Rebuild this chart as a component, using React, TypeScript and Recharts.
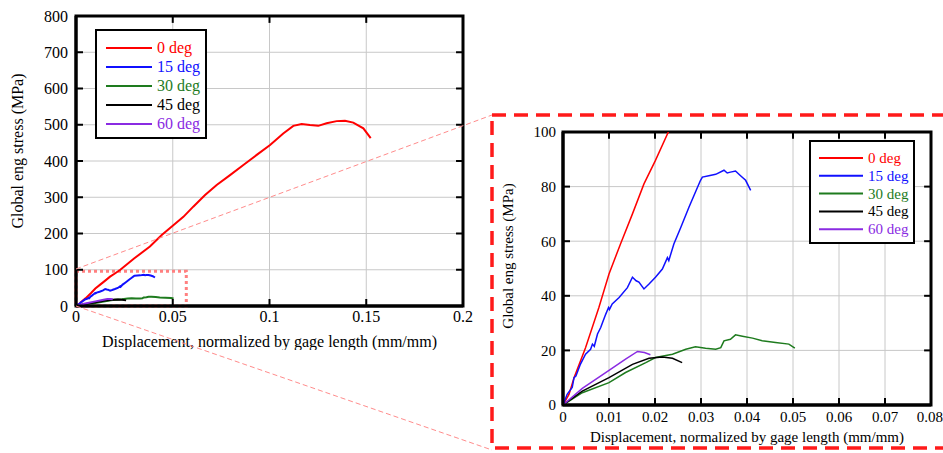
import {
  CartesianGrid,
  Legend,
  Line,
  LineChart,
  ReferenceArea,
  ReferenceLine,
  XAxis,
  YAxis,
} from "recharts";

const FONT = "'Liberation Serif', 'DejaVu Serif', serif";

const seriesNames = ["0 deg", "15 deg", "30 deg", "45 deg", "60 deg"];
const seriesColors = ["#ff0000", "#1010ff", "#1e7b1e", "#000000", "#8a2be2"];

// [displacement (mm/mm), stress (MPa)]
const deg0: [number, number][] = [
  [0, 0], [0.0013, 3.9], [0.0024, 10], [0.0049, 21], [0.0078, 35.7],
  [0.01, 48], [0.0125, 59], [0.0151, 70], [0.0176, 81], [0.0201, 89.6],
  [0.0229, 100], [0.03, 131], [0.0382, 164], [0.0443, 196], [0.0503, 223],
  [0.0555, 246], [0.0606, 274], [0.0667, 306], [0.0727, 334], [0.0796, 361],
  [0.0865, 389], [0.0934, 417], [0.1003, 444], [0.1071, 476], [0.1123, 497],
  [0.1166, 502], [0.1209, 499], [0.1252, 497], [0.1295, 504], [0.1347, 510],
  [0.139, 511], [0.1433, 506], [0.1485, 490], [0.1523, 463],
];

const deg15: [number, number][] = [
  [0, 0], [0.0009, 3.9], [0.002, 6.4], [0.0024, 10], [0.0028, 10.6],
  [0.0038, 15], [0.0049, 18.6], [0.006, 20.4], [0.0064, 22.3], [0.0068, 21.5],
  [0.0075, 26], [0.0082, 28.4], [0.0086, 30.2], [0.0093, 33.3], [0.0099, 35.7],
  [0.0101, 35], [0.0107, 37], [0.0122, 39.4], [0.014, 43], [0.0151, 46.8],
  [0.0159, 45.5], [0.0165, 45], [0.0176, 42.5], [0.0187, 44.3], [0.0201, 46.8],
  [0.0216, 49.8], [0.0227, 54], [0.023, 52.9], [0.0241, 59], [0.0256, 65],
  [0.0274, 72.5], [0.0288, 78], [0.0299, 82.3], [0.0303, 83.5], [0.0317, 84],
  [0.0332, 84.5], [0.035, 86], [0.0357, 85], [0.0364, 85.3], [0.0375, 85.7],
  [0.0386, 84], [0.0397, 82.3], [0.0408, 78.6],
];

const deg30: [number, number][] = [
  [0, 0], [0.0042, 4.5], [0.01, 8.2], [0.0136, 11.9], [0.018, 15.5],
  [0.0201, 17.4], [0.0238, 18.6], [0.0267, 20.4], [0.0288, 21.3], [0.031, 20.8],
  [0.0332, 20.4], [0.0343, 21], [0.035, 23.5], [0.0364, 24.1], [0.0375, 25.7],
  [0.039, 25.2], [0.0412, 24.5], [0.0433, 23.5], [0.0462, 22.9], [0.0491, 22.3],
  [0.0504, 20.8],
];

const deg45: [number, number][] = [
  [0, 0], [0.0042, 5.1], [0.01, 10], [0.0151, 14.9], [0.0187, 17.1],
  [0.0216, 17.6], [0.0238, 17.1], [0.0259, 15.5],
];

const deg60: [number, number][] = [
  [0, 0], [0.0042, 6.1], [0.01, 12.7], [0.0136, 16.8], [0.0162, 19.6],
  [0.0177, 19.2], [0.019, 18.4],
];

const allSeries = [deg0, deg15, deg30, deg45, deg60];

const fullXTicks = [0, 0.05, 0.1, 0.15, 0.2];
const fullYTicks = [0, 100, 200, 300, 400, 500, 600, 700, 800];
const zoomXTicks = [0, 0.01, 0.02, 0.03, 0.04, 0.05, 0.06, 0.07, 0.08];
const zoomYTicks = [0, 20, 40, 60, 80, 100];

function LegendBox({ w, h, first, gap, x1, x2, tx, fontSize }: any) {
  return (
    <div
      style={{
        width: w,
        height: h,
        border: "2px solid #000",
        background: "#fff",
        boxSizing: "border-box",
      }}
    >
      <svg width={w - 4} height={h - 4} style={{ display: "block" }}>
        {seriesNames.map((name, i) => {
          const y = first + i * gap - 2;
          return (
            <g key={name}>
              <line x1={x1 - 2} x2={x2 - 2} y1={y} y2={y} stroke={seriesColors[i]} strokeWidth={2} />
              <text
                x={tx - 2}
                y={y}
                dy="0.33em"
                fill={seriesColors[i]}
                style={{ fontSize, fontFamily: FONT }}
              >
                {name}
              </text>
            </g>
          );
        })}
      </svg>
    </div>
  );
}

function StressChart({ c }: any) {
  const tickStyle = { fill: "#000", fontSize: c.fontSize, style: { fontFamily: FONT } };
  const axisLine = { stroke: "#000", strokeWidth: 3 };
  const tickLine = { stroke: "#000", strokeWidth: 2 };
  const x0 = c.xTicks[0];
  const x1 = c.xTicks[c.xTicks.length - 1];
  const y0 = c.yTicks[0];
  const y1 = c.yTicks[c.yTicks.length - 1];
  return (
    <LineChart
      width={c.width}
      height={c.height}
      margin={c.margin}
      style={{ fontFamily: FONT }}
    >
      <CartesianGrid stroke="#c8c8c8" strokeWidth={1} />

      <XAxis
        type="number"
        dataKey="x"
        domain={[x0, x1]}
        ticks={c.xTicks}
        allowDataOverflow
        height={c.xHeight}
        tick={tickStyle}
        tickSize={-7}
        tickMargin={c.xTickMargin}
        tickLine={tickLine}
        axisLine={axisLine}
        label={{
          value: "Displacement, normalized by gage length (mm/mm)",
          position: "insideBottom",
          offset: c.xTitleOffset,
          fill: "#000",
          fontSize: c.titleSize,
          style: { fontFamily: FONT },
        }}
      />
      <YAxis
        type="number"
        domain={[y0, y1]}
        ticks={c.yTicks}
        allowDataOverflow
        width={c.yWidth}
        tick={tickStyle}
        tickSize={-7}
        tickMargin={c.yTickMargin}
        tickLine={tickLine}
        axisLine={axisLine}
        label={{
          content: () => (
            <text
              x={c.yTitle[0]}
              y={c.yTitle[1]}
              transform={`rotate(-90 ${c.yTitle[0]} ${c.yTitle[1]})`}
              textAnchor="middle"
              dy="0.33em"
              fill="#000"
              style={{ fontSize: c.titleSize, fontFamily: FONT }}
            >
              Global eng stress (MPa)
            </text>
          ),
        }}
      />

      {/* frame box */}
      <ReferenceArea
        x1={x0}
        x2={x1}
        y1={y0}
        y2={y1}
        fill="none"
        stroke="#000"
        strokeWidth={3}
        ifOverflow="visible"
      />
      {/* inward ticks on the top and right edges */}
      {c.xTicks.slice(1, -1).map((t: number) => (
        <ReferenceLine
          key={`tx${t}`}
          segment={[{ x: t, y: y1 }, { x: t, y: y1 - c.tickDy }]}
          stroke="#000"
          strokeWidth={2}
          ifOverflow="visible"
        />
      ))}
      {c.yTicks.slice(1, -1).map((t: number) => (
        <ReferenceLine
          key={`ty${t}`}
          segment={[{ x: x1, y: t }, { x: x1 - c.tickDx, y: t }]}
          stroke="#000"
          strokeWidth={2}
          ifOverflow="visible"
        />
      ))}

      {c.box && (
        <ReferenceArea
          x1={0}
          x2={c.box[0]}
          y1={0}
          y2={c.box[1]}
          fill="none"
          stroke="#ff8080"
          strokeWidth={3}
          strokeDasharray="3 3"
          ifOverflow="visible"
        />
      )}

      {allSeries.map((s, i) => (
        <Line
          key={seriesNames[i]}
          data={s.map(([x, y]) => ({ x, y }))}
          dataKey="y"
          name={seriesNames[i]}
          type="linear"
          stroke={seriesColors[i]}
          strokeWidth={c.lineWidth}
          dot={false}
          activeDot={false}
          isAnimationActive={false}
        />
      ))}

      <Legend
        layout="vertical"
        align="center"
        verticalAlign="middle"
        wrapperStyle={c.legendPos}
        content={() => <LegendBox {...c.legend} />}
      />
    </LineChart>
  );
}

const fullChart = {
  width: 480,
  height: 350,
  margin: { top: 16, right: 17, bottom: 0, left: 0 },
  xTicks: fullXTicks,
  yTicks: fullYTicks,
  xHeight: 44,
  yWidth: 76,
  fontSize: 16,
  titleSize: 16,
  xTickMargin: 12,
  yTickMargin: 15,
  xTitleOffset: 3.5,
  yTitle: [18, 151],
  lineWidth: 2,
  tickDx: 0.0036,
  tickDy: 19,
  box: [0.057, 96],
  legendPos: { left: 95, top: 29, width: 112, height: 110 },
  legend: { w: 112, h: 110, first: 19, gap: 19, x1: 11, x2: 57, tx: 62, fontSize: 16 },
};

const zoomChart = {
  width: 463,
  height: 353,
  margin: { top: 32, right: 12, bottom: 0, left: 0 },
  xTicks: zoomXTicks,
  yTicks: zoomYTicks,
  xHeight: 48,
  yWidth: 83,
  fontSize: 15,
  titleSize: 15,
  xTickMargin: 13,
  yTickMargin: 14,
  xTitleOffset: 11.5,
  yTitle: [28, 156],
  lineWidth: 1.5,
  tickDx: 0.0015,
  tickDy: 2.5,
  box: null,
  legendPos: { left: 329, top: 40, width: 106, height: 104 },
  legend: { w: 106, h: 104, first: 18, gap: 17.8, x1: 10, x2: 54, tx: 59, fontSize: 15 },
};

export default function App() {
  return (
    <div
      style={{
        position: "absolute",
        left: 0,
        top: 0,
        width: 943,
        height: 453,
        overflow: "hidden",
        background: "#fff",
        fontFamily: FONT,
      }}
    >
      <div style={{ position: "absolute", left: 0, top: 0 }}>
        <StressChart c={fullChart} />
      </div>
      <div style={{ position: "absolute", left: 480, top: 100 }}>
        <StressChart c={zoomChart} />
      </div>
      <svg
        width={943}
        height={453}
        style={{ position: "absolute", left: 0, top: 0, pointerEvents: "none" }}
      >
        <line x1={76} y1={269} x2={492} y2={115} stroke="#ff8c8c" strokeWidth={1} strokeDasharray="5 3" />
        <line x1={76} y1={306} x2={492} y2={450} stroke="#ff8c8c" strokeWidth={1} strokeDasharray="5 3" />
        <rect
          x={492}
          y={115}
          width={480}
          height={333}
          fill="none"
          stroke="#ff1a1a"
          strokeWidth={3.5}
          strokeDasharray="14 8"
        />
      </svg>
    </div>
  );
}
